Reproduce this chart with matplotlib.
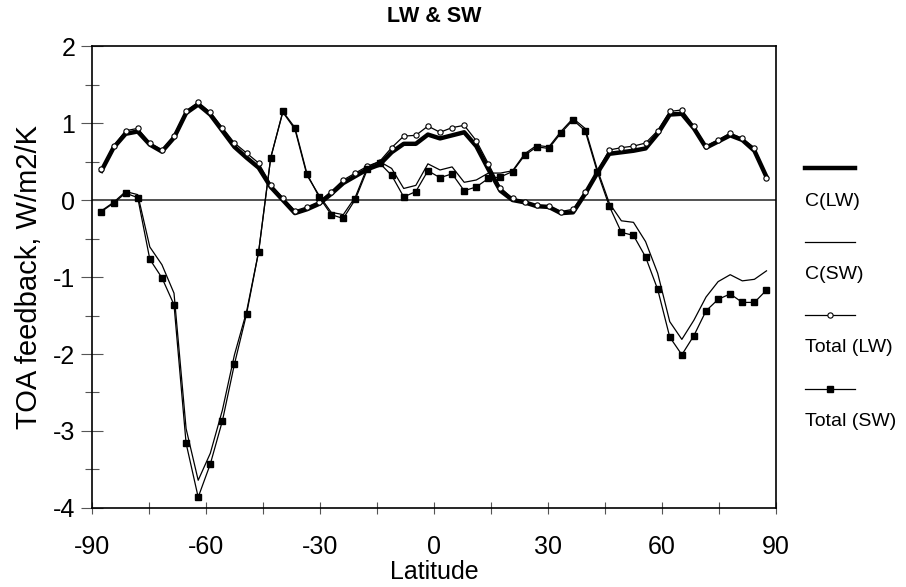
import numpy as np
import matplotlib
matplotlib.use("Agg")
import matplotlib.pyplot as plt
from matplotlib.ticker import MultipleLocator

plt.rcParams['font.family'] = ['Liberation Sans', 'DejaVu Sans']
plt.rcParams['axes.unicode_minus'] = False

# zonal-mean TOA feedback on the model latitude rows
lat = np.linspace(-87.5, 87.5, 56)

c_lw = [0.38, 0.68, 0.86, 0.89, 0.72, 0.63, 0.81, 1.13, 1.24, 1.11,
        0.90, 0.69, 0.55, 0.42, 0.17, 0.00, -0.17, -0.12, -0.05, 0.08,
        0.22, 0.31, 0.40, 0.46, 0.62, 0.73, 0.73, 0.85, 0.80, 0.84,
        0.88, 0.70, 0.40, 0.12, 0.00, -0.03, -0.08, -0.09, -0.17, -0.16,
        0.08, 0.35, 0.60, 0.62, 0.64, 0.67, 0.86, 1.11, 1.12, 0.93,
        0.68, 0.76, 0.84, 0.78, 0.64, 0.30]

c_sw = [-0.14, -0.03, 0.11, 0.07, -0.61, -0.84, -1.21, -2.97, -3.64, -3.29,
        -2.73, -2.01, -1.45, -0.67, 0.55, 1.14, 0.92, 0.32, 0.06, -0.16,
        -0.19, 0.04, 0.43, 0.50, 0.41, 0.15, 0.19, 0.47, 0.39, 0.43,
        0.23, 0.26, 0.35, 0.35, 0.38, 0.60, 0.71, 0.69, 0.89, 1.06,
        0.93, 0.40, -0.04, -0.27, -0.29, -0.54, -0.95, -1.58, -1.81, -1.56,
        -1.26, -1.06, -0.97, -1.05, -1.03, -0.92]

tot_lw = [0.40, 0.70, 0.90, 0.93, 0.74, 0.65, 0.83, 1.16, 1.27, 1.14,
          0.94, 0.74, 0.61, 0.48, 0.20, 0.03, -0.14, -0.09, -0.02, 0.11,
          0.26, 0.35, 0.44, 0.50, 0.68, 0.83, 0.84, 0.96, 0.88, 0.94,
          0.97, 0.77, 0.47, 0.16, 0.02, -0.02, -0.07, -0.08, -0.15, -0.12,
          0.10, 0.37, 0.65, 0.68, 0.70, 0.74, 0.90, 1.15, 1.17, 0.96,
          0.70, 0.78, 0.87, 0.80, 0.68, 0.29]

tot_sw = [-0.15, -0.04, 0.09, 0.03, -0.77, -1.01, -1.36, -3.16, -3.86, -3.43,
          -2.87, -2.13, -1.48, -0.67, 0.55, 1.15, 0.94, 0.34, 0.04, -0.19,
          -0.24, 0.01, 0.40, 0.48, 0.32, 0.04, 0.11, 0.38, 0.29, 0.34,
          0.12, 0.17, 0.28, 0.30, 0.37, 0.58, 0.69, 0.67, 0.87, 1.04,
          0.90, 0.37, -0.08, -0.42, -0.46, -0.74, -1.16, -1.78, -2.01, -1.76,
          -1.44, -1.29, -1.22, -1.33, -1.33, -1.17]

labels = ['C(LW)', 'C(SW)', 'Total (LW)', 'Total (SW)']

fig = plt.figure(figsize=(9.06, 5.87), dpi=100)
ax = fig.add_axes([0.1015, 0.1346, 0.755, 0.787])

styles = [
    dict(color='black', lw=3.2),
    dict(color='black', lw=0.9),
    dict(color='black', lw=0.9, marker='o', ms=3.8, mfc='white', mec='black', mew=0.8),
    dict(color='black', lw=0.9, marker='s', ms=3.8, mfc='black', mec='black'),
]

ax.axhline(0, color='#444444', lw=1.3, zorder=1)
for series, st in zip([c_lw, c_sw, tot_lw, tot_sw], styles):
    ax.plot(lat, series, zorder=3, **st)

ax.set_xlim(-90, 90)
ax.set_ylim(-4, 2)
ax.xaxis.set_major_locator(MultipleLocator(30))
ax.xaxis.set_minor_locator(MultipleLocator(15))
ax.yaxis.set_major_locator(MultipleLocator(1))
ax.yaxis.set_minor_locator(MultipleLocator(0.5))
ax.tick_params(axis='y', which='major', direction='inout', length=16, width=0.8,
               color='#555555', labelsize=18, pad=4)
ax.tick_params(axis='y', which='minor', direction='inout', length=10, width=0.8,
               color='#555555')
ax.tick_params(axis='x', which='both', direction='inout', length=9, width=0.8,
               color='#555555', labelsize=18, pad=15)
for sp in ax.spines.values():
    sp.set_linewidth(1.2)

ax.set_title('LW & SW', fontsize=15.5, fontweight='bold', pad=17)
ax.set_xlabel('Latitude', fontsize=18, labelpad=1)
ax.set_ylabel('TOA feedback, W/m2/K', fontsize=21, labelpad=7)

# legend: sample line with its label underneath
lax = fig.add_axes([0, 0, 1, 1], zorder=-1)
lax.set_xlim(0, 906)
lax.set_ylim(587, 0)
lax.axis('off')
for k, (lab, st) in enumerate(zip(labels, styles)):
    y = 168 + 73.5 * k
    lax.plot([805, 830, 855], [y, y, y], markevery=[1], **st)
    lax.text(805, y + 33, lab, fontsize=14, va='center', ha='left')

fig.savefig('out.png', dpi=100)
